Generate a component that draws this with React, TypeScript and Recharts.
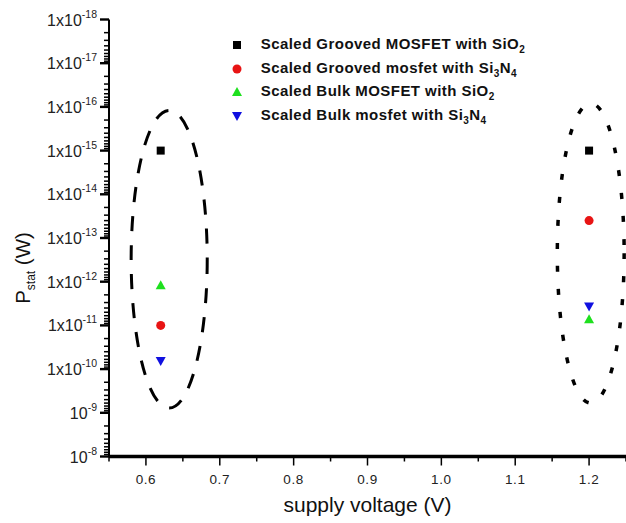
import React from 'react';
import { ScatterChart, Scatter, XAxis, YAxis, ReferenceArea } from 'recharts';

// supply voltage (V) for the two operating points
const VOLTAGES = [0.62, 1.2];

// static power (W) per device
const GROOVED_SIO2 = [1e-15, 1e-15];
const GROOVED_SI3N4 = [1e-11, 4e-14];
const BULK_SIO2 = [1.2e-12, 7.2e-12];
const BULK_SI3N4 = [6.5e-11, 3.7e-12];

// x axis ticks
const X_TICKS = [0.55, 0.6, 0.65, 0.7, 0.75, 0.8, 0.85, 0.9, 0.95, 1.0, 1.05, 1.1, 1.15, 1.2, 1.25];
const X_MAJOR = [0.6, 0.7, 0.8, 0.9, 1.0, 1.1, 1.2];
const X_LABELS = ['0.6', '0.7', '0.8', '0.9', '1.0', '1.1', '1.2'];

// y axis decades and labels
const Y_EXPONENTS = [-18, -17, -16, -15, -14, -13, -12, -11, -10, -9, -8];
const Y_MANTISSA = ['1x10', '1x10', '1x10', '1x10', '1x10', '1x10', '1x10', '1x10', '1x10', '10', '10'];
const Y_EXP_LABELS = ['-18', '-17', '-16', '-15', '-14', '-13', '-12', '-11', '-10', '-9', '-8'];

// ellipse annotations (data coords)
const LEFT_RING_X = [0.58, 0.683];
const LEFT_RING_Y = [1.2e-16, 7.8e-10];
const RIGHT_RING_X = [1.157, 1.2475];
const RIGHT_RING_Y = [8.3e-17, 6e-10];

const FONT = '"Liberation Sans", Arial, sans-serif';

const Y_TICKS: number[] = [];
for (let i = 0; i < Y_EXPONENTS.length - 1; i++) {
  for (let k = 1; k <= 9; k++) {
    Y_TICKS.push(Number((k * Math.pow(10, Y_EXPONENTS[i])).toPrecision(3)));
  }
}
Y_TICKS.push(Math.pow(10, Y_EXPONENTS[Y_EXPONENTS.length - 1]));

const toPoints = (vals: number[]) => VOLTAGES.map((v, i) => ({ x: v, y: vals[i] }));

const SERIES = [
  { name: 'grooved-sio2', data: toPoints(GROOVED_SIO2), color: '#000000', shape: 'square' },
  { name: 'grooved-si3n4', data: toPoints(GROOVED_SI3N4), color: '#e81414', shape: 'circle' },
  { name: 'bulk-sio2', data: toPoints(BULK_SIO2), color: '#1ee01e', shape: 'up' },
  { name: 'bulk-si3n4', data: toPoints(BULK_SI3N4), color: '#1010e0', shape: 'down' },
];

const LEGEND_ROWS = [
  { shape: 'square', color: '#000000', text: 'Scaled Grooved MOSFET with SiO', subs: [['', '2']] },
  { shape: 'circle', color: '#e81414', text: 'Scaled Grooved mosfet with Si', subs: [['3', 'N'], ['4', '']] },
  { shape: 'up', color: '#1ee01e', text: 'Scaled Bulk MOSFET with SiO', subs: [['', '2']] },
  { shape: 'down', color: '#1010e0', text: 'Scaled Bulk mosfet with Si', subs: [['3', 'N'], ['4', '']] },
];

function Marker({ shape, cx, cy, color }: { shape: string; cx: number; cy: number; color: string }) {
  if (shape === 'square') return <rect x={cx - 4} y={cy - 4} width={8} height={8} fill={color} />;
  if (shape === 'circle') return <circle cx={cx} cy={cy} r={4.5} fill={color} />;
  if (shape === 'up')
    return <polygon points={`${cx - 5},${cy + 4} ${cx + 5},${cy + 4} ${cx},${cy - 5}`} fill={color} />;
  return <polygon points={`${cx - 5},${cy - 4} ${cx + 5},${cy - 4} ${cx},${cy + 5}`} fill={color} />;
}

function XTick(props: any) {
  const { x, y, payload } = props;
  const v = payload.value;
  const idx = X_MAJOR.findIndex((m) => Math.abs(m - v) < 1e-6);
  const major = idx >= 0;
  return (
    <g>
      <line x1={x} x2={x} y1={y} y2={y + (major ? 9 : 5)} stroke="#000" strokeWidth={1.5} />
      {major && (
        <text x={x} y={y + 27} textAnchor="middle" fontSize={13.5} letterSpacing={0.6} fill="#222" fontFamily={FONT}>
          {X_LABELS[idx]}
        </text>
      )}
    </g>
  );
}

function YTick(props: any) {
  const { x, y, payload } = props;
  const lg = Math.log10(payload.value);
  const major = Math.abs(lg - Math.round(lg)) < 1e-6;
  const idx = Y_EXPONENTS.indexOf(Math.round(lg));
  return (
    <g>
      <line x1={x} x2={x - (major ? 9 : 5)} y1={y} y2={y} stroke="#000" strokeWidth={major ? 2.4 : 1.5} />
      {major && idx >= 0 && (
        <text x={x - 12} y={y + 6} textAnchor="end" fontSize={16} fill="#222" fontFamily={FONT}>
          <tspan>{Y_MANTISSA[idx]}</tspan>
          <tspan dy={-8} fontSize={10.5}>
            {Y_EXP_LABELS[idx]}
          </tspan>
        </text>
      )}
    </g>
  );
}

function Ring(dash: string, width: number) {
  return (props: any) => {
    const { x, y, width: w, height: h } = props;
    return (
      <ellipse
        cx={x + w / 2}
        cy={y + h / 2}
        rx={w / 2}
        ry={h / 2}
        fill="none"
        stroke="#000"
        strokeWidth={width}
        strokeDasharray={dash}
      />
    );
  };
}

function YLabel(props: any) {
  const { viewBox } = props;
  const cy = viewBox.y + viewBox.height / 2 + 30;
  const bx = 30;
  return (
    <text x={bx} y={cy} transform={`rotate(-90, ${bx}, ${cy})`} textAnchor="middle" fontSize={20.5} fill="#111" fontFamily={FONT}>
      <tspan>P</tspan>
      <tspan dy={5} fontSize={12}>
        stat
      </tspan>
      <tspan dy={-5}> (W)</tspan>
    </text>
  );
}

function LegendBox() {
  return (
    <div
      style={{
        position: 'absolute',
        top: 33.2,
        left: 229,
        fontFamily: FONT,
        fontWeight: 'bold',
        fontSize: 15,
        letterSpacing: 0.45,
        color: '#111',
      }}
    >
      {LEGEND_ROWS.map((row, i) => (
        <div key={i} style={{ display: 'flex', alignItems: 'center', height: 23.6, whiteSpace: 'nowrap' }}>
          <svg width={16} height={16} style={{ marginRight: 15.7 }}>
            <Marker shape={row.shape} cx={8} cy={8} color={row.color} />
          </svg>
          <span>
            {row.text}
            {row.subs.map((s, j) => (
              <React.Fragment key={j}>
                {s[0] && <sub style={{ fontSize: 10 }}>{s[0]}</sub>}
                {s[1] && (j === 0 && row.subs.length > 1 ? <span>{s[1]}</span> : <sub style={{ fontSize: 10 }}>{s[1]}</sub>)}
              </React.Fragment>
            ))}
          </span>
        </div>
      ))}
    </div>
  );
}

export default function App() {
  return (
    <div style={{ position: 'absolute', left: 0, top: 0, width: 626, height: 523, background: '#fff' }}>
      <ScatterChart width={626} height={523} margin={{ top: 19.5, right: 0, bottom: 0, left: 0 }}>
        <XAxis
          type="number"
          dataKey="x"
          domain={[0.55, 1.25]}
          ticks={X_TICKS}
          interval={0}
          height={66.5}
          tickSize={0}
          tickMargin={0}
          tickLine={false}
          tick={<XTick />}
          axisLine={{ stroke: '#000', strokeWidth: 3.5 }}
          allowDataOverflow
          label={{ value: 'supply voltage (V)', position: 'insideBottom', offset: 11, fontSize: 21, fill: '#111', fontFamily: FONT }}
        />
        <YAxis
          type="number"
          dataKey="y"
          scale="log"
          domain={[1e-18, 1e-8]}
          reversed
          ticks={Y_TICKS}
          interval={0}
          width={109}
          tickSize={0}
          tickMargin={0}
          tickLine={false}
          tick={<YTick />}
          axisLine={{ stroke: '#000', strokeWidth: 2 }}
          allowDataOverflow
          label={<YLabel />}
        />
        <ReferenceArea
          x1={LEFT_RING_X[0]}
          x2={LEFT_RING_X[1]}
          y1={LEFT_RING_Y[0]}
          y2={LEFT_RING_Y[1]}
          shape={Ring('15 14', 3)}
        />
        <ReferenceArea
          x1={RIGHT_RING_X[0]}
          x2={RIGHT_RING_X[1]}
          y1={RIGHT_RING_Y[0]}
          y2={RIGHT_RING_Y[1]}
          shape={Ring('6 17', 3.5)}
        />
        {SERIES.map((s) => (
          <Scatter
            key={s.name}
            name={s.name}
            data={s.data}
            fill={s.color}
            isAnimationActive={false}
            shape={(p: any) => <Marker shape={s.shape} cx={p.cx} cy={p.cy} color={s.color} />}
          />
        ))}
      </ScatterChart>
      <LegendBox />
    </div>
  );
}
